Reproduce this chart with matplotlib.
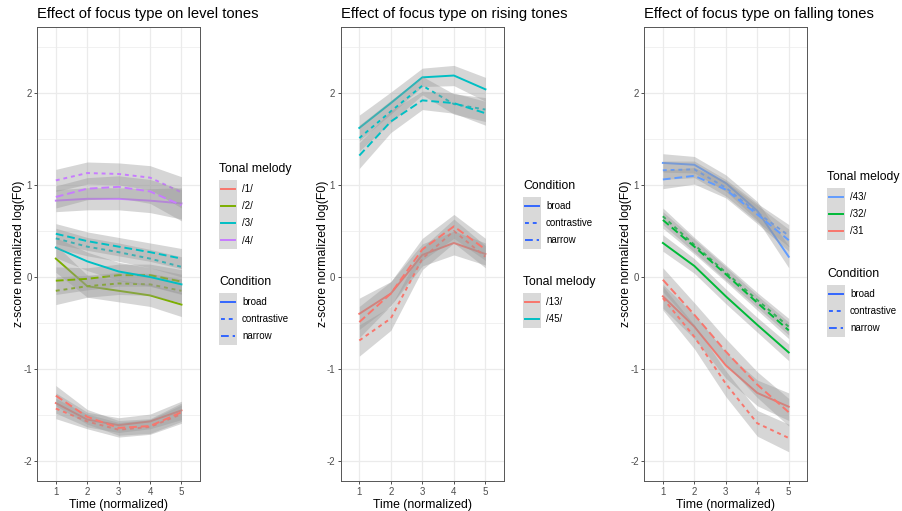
import numpy as np
import matplotlib.pyplot as plt
from matplotlib.lines import Line2D
from matplotlib.patches import Rectangle

plt.rcParams['font.family'] = ['Liberation Sans', 'DejaVu Sans']
plt.rcParams['axes.unicode_minus'] = False

W, H = 902, 511
time = [1, 2, 3, 4, 5]
conditions = ['broad', 'contrastive', 'narrow']

# level tones
level_tones = ['/1/', '/2/', '/3/', '/4/']
level_colors = ['#F8766D', '#7CAE00', '#00BFC4', '#C77CFF']
level_1 = {'broad': [-1.37, -1.55, -1.61, -1.57, -1.45],
           'contrastive': [-1.43, -1.57, -1.66, -1.63, -1.49],
           'narrow': [-1.29, -1.52, -1.64, -1.62, -1.47]}
level_2 = {'broad': [0.2, -0.1, -0.15, -0.2, -0.3],
           'contrastive': [-0.15, -0.1, -0.07, -0.08, -0.15],
           'narrow': [-0.04, -0.02, 0.02, 0.02, -0.05]}
level_3 = {'broad': [0.32, 0.17, 0.06, 0.0, -0.08],
           'contrastive': [0.42, 0.33, 0.27, 0.2, 0.11],
           'narrow': [0.47, 0.39, 0.33, 0.27, 0.2]}
level_4 = {'broad': [0.83, 0.85, 0.85, 0.83, 0.8],
           'contrastive': [1.05, 1.13, 1.12, 1.08, 0.92],
           'narrow': [0.87, 0.96, 0.98, 0.93, 0.78]}
level_se = [[0.11, 0.08, 0.08, 0.08, 0.1],
            [0.15, 0.12, 0.12, 0.12, 0.13],
            [0.11, 0.1, 0.1, 0.1, 0.11],
            [0.12, 0.12, 0.12, 0.13, 0.17]]

# rising tones
rising_tones = ['/13/', '/45/']
rising_colors = ['#F8766D', '#00BFC4']
rising_13 = {'broad': [-0.4, -0.18, 0.24, 0.37, 0.25],
             'contrastive': [-0.69, -0.45, 0.2, 0.5, 0.22],
             'narrow': [-0.49, -0.18, 0.3, 0.55, 0.3]}
rising_45 = {'broad': [1.62, 1.89, 2.17, 2.19, 2.04],
             'contrastive': [1.51, 1.8, 2.08, 1.88, 1.82],
             'narrow': [1.32, 1.69, 1.92, 1.89, 1.78]}
rising_se = [[0.17, 0.13, 0.12, 0.13, 0.12],
             [0.14, 0.12, 0.1, 0.11, 0.13]]

# falling tones
falling_tones = ['/43/', '/32/', '/31']
falling_colors = ['#619CFF', '#00BA38', '#F8766D']
falling_43 = {'broad': [1.24, 1.22, 1.02, 0.72, 0.22],
              'contrastive': [1.16, 1.17, 0.97, 0.7, 0.45],
              'narrow': [1.06, 1.1, 0.95, 0.68, 0.4]}
falling_32 = {'broad': [0.37, 0.12, -0.21, -0.52, -0.82],
              'contrastive': [0.66, 0.35, 0.05, -0.25, -0.54],
              'narrow': [0.62, 0.33, 0.03, -0.28, -0.58]}
falling_31 = {'broad': [-0.21, -0.54, -0.96, -1.26, -1.41],
              'contrastive': [-0.23, -0.65, -1.16, -1.59, -1.75],
              'narrow': [-0.03, -0.41, -0.81, -1.17, -1.47]}
falling_se = [[0.1, 0.09, 0.09, 0.1, 0.12],
              [0.09, 0.08, 0.08, 0.08, 0.09],
              [0.13, 0.13, 0.14, 0.14, 0.15]]

dash = {'broad': '-', 'contrastive': (0, (2, 2)), 'narrow': (0, (4, 2))}
LW = 1.4


def fx(x):
    return x / W


def fy(y):
    return 1 - y / H


fig = plt.figure(figsize=(W / 100, H / 100), dpi=100)


def panel(left, right, title, tones, colors, series, se):
    top, bottom = 27, 481
    ax = fig.add_axes([fx(left), fy(bottom), fx(right - left), (bottom - top) / H])
    ax.set_xlim(0.41, 5.59)
    ax.set_ylim((277 - bottom) / 92, (277 - top) / 92)
    ax.set_xticks(time)
    ax.set_yticks([-2, -1, 0, 1, 2])
    ax.set_yticks([-1.5, -0.5, 0.5, 1.5, 2.5], minor=True)
    ax.grid(True, which='major', color='#ebebeb', lw=0.9, zorder=0)
    ax.grid(True, which='minor', axis='y', color='#ebebeb', lw=0.5, zorder=0)
    ax.tick_params(which='major', length=2.5, width=0.6, color='#333333',
                   labelsize=7, labelcolor='#4d4d4d', pad=1.5)
    ax.tick_params(which='minor', length=0)
    for s in ax.spines.values():
        s.set_color('#555555')
        s.set_linewidth(0.7)
    ax.set_axisbelow(True)
    z = 2
    for i, tone in enumerate(tones):
        for cond in conditions:
            m = np.array(series[i][cond])
            e = np.array(se[i])
            ax.fill_between(time, m - e, m + e, color='#999999', alpha=0.4, lw=0, zorder=z)
            ax.plot(time, m, color=colors[i], lw=LW, ls=dash[cond], zorder=z + 1)
            z += 2
    mid = (left + right) / 2
    fig.text(fx(left), fy(14), title, fontsize=10.6, ha='left', va='center')
    fig.text(fx(mid), fy(505), 'Time (normalized)', fontsize=8.8, ha='center', va='center')
    fig.text(fx(left - 18), fy((top + bottom) / 2), 'z-score normalized log(F0)',
             fontsize=8.8, rotation=90, ha='center', va='center')
    return ax


def legend_block(x, ytitle, title, labels, colors, styles):
    fig.text(fx(x), fy(ytitle), title, fontsize=8.8, ha='left', va='center')
    y0 = ytitle + 11
    n = len(labels)
    fig.add_artist(Rectangle((fx(x), fy(y0 + 17.3 * n)), 18 / W, 17.3 * n / H,
                             facecolor='#d9d9d9', edgecolor='none', transform=fig.transFigure))
    for k in range(n):
        yc = y0 + 17.3 * k + 8.6
        fig.add_artist(Line2D([fx(x + 2), fx(x + 16)], [fy(yc), fy(yc)], color=colors[k],
                              lw=LW, ls=styles[k], transform=fig.transFigure))
        fig.text(fx(x + 23), fy(yc), labels[k], fontsize=7, ha='left', va='center')


cond_styles = [dash[c] for c in conditions]

panel(37.3, 200, 'Effect of focus type on level tones', level_tones, level_colors,
      [level_1, level_2, level_3, level_4], level_se)
legend_block(219, 169, 'Tonal melody', level_tones, level_colors, ['-'] * 4)
legend_block(219, 282, 'Condition', conditions, ['#3366FF'] * 3, cond_styles)

panel(340.7, 504, 'Effect of focus type on rising tones', rising_tones, rising_colors,
      [rising_13, rising_45], rising_se)
legend_block(523, 186, 'Condition', conditions, ['#3366FF'] * 3, cond_styles)
legend_block(523, 282, 'Tonal melody', rising_tones, rising_colors, ['-'] * 2)

panel(644.3, 807.3, 'Effect of focus type on falling tones', falling_tones, falling_colors,
      [falling_43, falling_32, falling_31], falling_se)
legend_block(827, 177, 'Tonal melody', falling_tones, falling_colors, ['-'] * 3)
legend_block(827, 274, 'Condition', conditions, ['#3366FF'] * 3, cond_styles)

fig.savefig('out.png', dpi=100)
